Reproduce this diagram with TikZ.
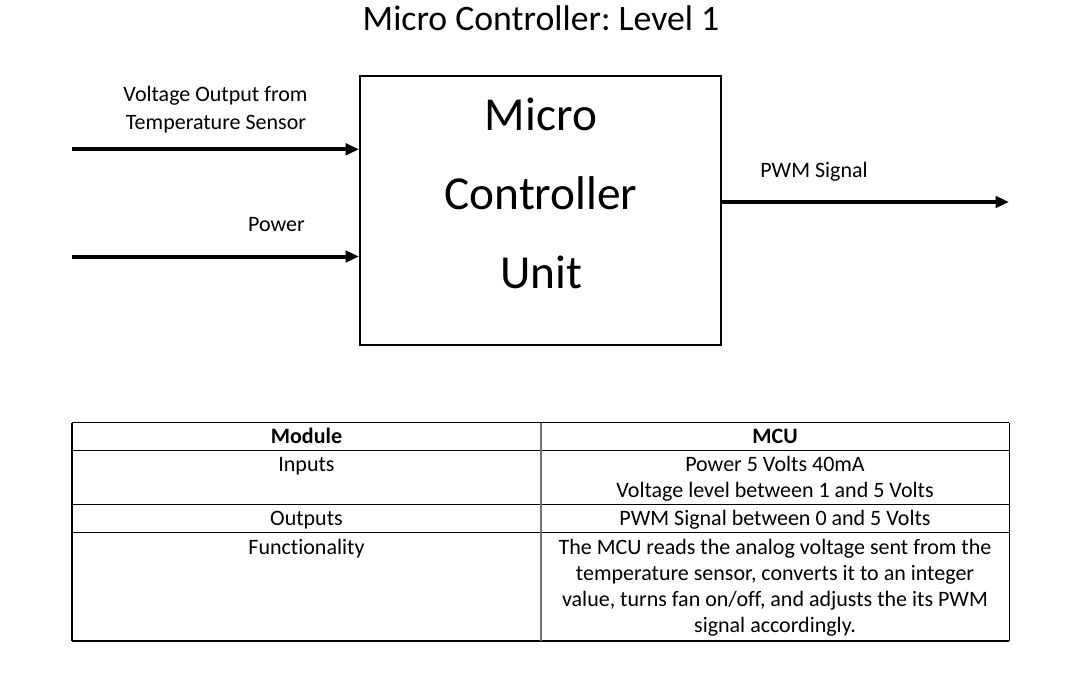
\documentclass[tikz,border=0pt]{standalone}
\usepackage{fontspec}
\setmainfont{Carlito}[Ligatures=NoCommon]
\usetikzlibrary{arrows.meta}
\frenchspacing
\begin{document}
\begin{tikzpicture}[x=0.75pt,y=-0.75pt,
  txt/.style={inner sep=0pt,anchor=base,font=\fontsize{16.5}{20}\selectfont},
  hdr/.style={txt,font=\fontsize{16.5}{20}\selectfont\bfseries},
  big/.style={inner sep=0pt,anchor=base,font=\fontsize{35.5}{40}\selectfont},
  ttl/.style={inner sep=0pt,anchor=base,font=\fontsize{26.8}{30}\selectfont},
  sig/.style={line width=3pt,-{Triangle[length=10pt,width=8.5pt]}},
  blockbox/.style={draw,line width=1.5pt,minimum width=361*0.75pt,minimum height=269*0.75pt,inner sep=0pt},
  hline/.style={line width=0.8pt},
  vline/.style={line width=0.9pt,draw=black!55}]
\useasboundingbox (0,0) rectangle (1072,674);
% title
\node[ttl] (title) at (541,31) {Micro Controller: Level 1};
% main block
\node[blockbox] (mcu) at (540.5,210.5) {};
\node[big] (l1) at (541,131) {Micro};
\node[big] (l2) at (541,209.3) {Controller};
\node[big] (l3) at (541,288.3) {Unit};
% signals
\coordinate (in1) at (72,149.3);
\coordinate (in2) at (72,256.5);
\coordinate (out) at (1009,202);
\draw[sig] (in1) -- (in1 -| mcu.west);
\draw[sig] (in2) -- (in2 -| mcu.west);
\draw[sig] (out -| mcu.east) -- (out);
\node[txt] (lab1a) at (215.5,101.7) {Voltage Output from};
\node[txt] (lab1b) at (216,130) {Temperature Sensor};
\node[txt] (lab2) at (276.5,231) {Power};
\node[txt] (lab3) at (814,177.7) {PWM Signal};
% table
\draw[hline] (72,422.7) -- (1009.3,422.7);
\draw[hline] (72,450.7) -- (1009.3,450.7);
\draw[hline] (72,504.7) -- (1009.3,504.7);
\draw[hline] (72,532.7) -- (1009.3,532.7);
\draw[hline] (72,641) -- (1009.3,641);
\draw[hline] (72,422.7) -- (72,641);
\draw[hline] (1009.3,422.7) -- (1009.3,641);
\draw[vline] (541,422.7) -- (541,641);
\node[hdr] (h1) at (306.5,443) {Module};
\node[hdr] (h2) at (775,443) {MCU};
\node[txt] (r1a) at (306.5,471) {Inputs};
\node[txt] (r1b) at (775,471) {Power 5 Volts 40mA};
\node[txt] (r1c) at (775,497.3) {Voltage level between 1 and 5 Volts};
\node[txt] (r2a) at (306.5,525.3) {Outputs};
\node[txt] (r2b) at (775,525.3) {PWM Signal between 0 and 5 Volts};
\node[txt] (r3a) at (306.5,554) {Functionality};
\node[txt] (r3b) at (775,554) {The MCU reads the analog voltage sent from the};
\node[txt] (r3c) at (775,580.3) {temperature sensor, converts it to an integer};
\node[txt] (r3d) at (775,606.6) {value, turns fan on/off, and adjusts the its PWM};
\node[txt] (r3e) at (775,632.9) {signal accordingly.};
\end{tikzpicture}
\end{document}
